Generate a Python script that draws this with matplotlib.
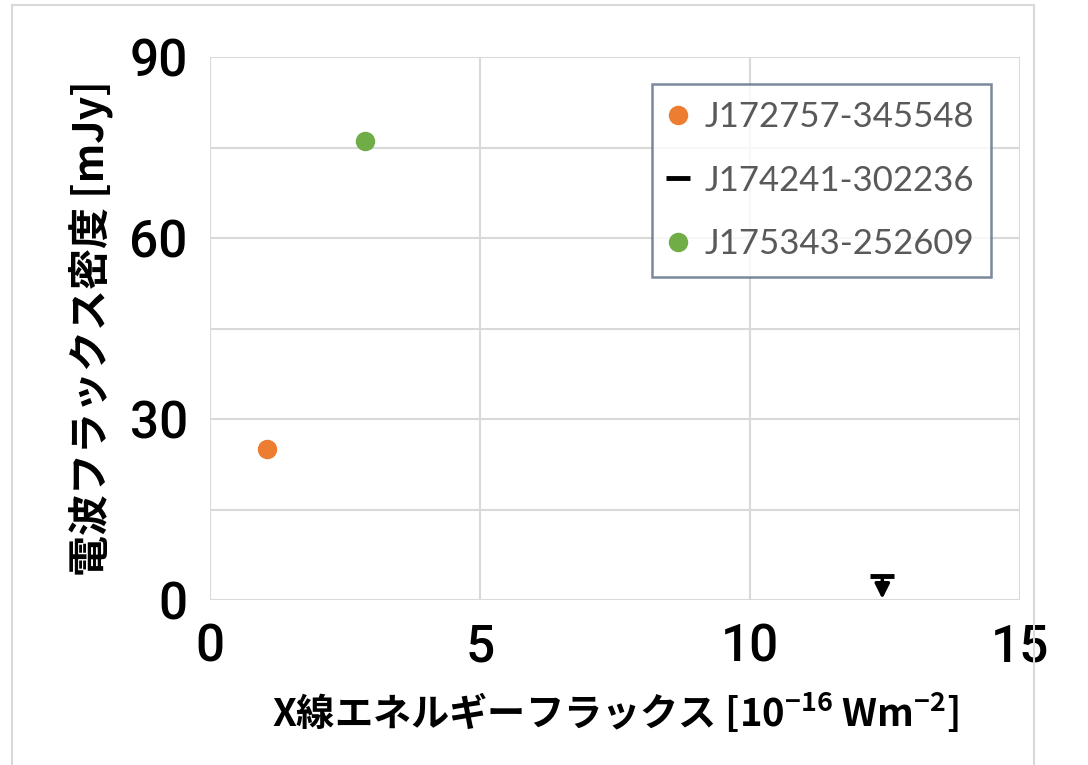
import matplotlib
matplotlib.use("Agg")
import matplotlib.pyplot as plt
from matplotlib.patches import Rectangle

plt.rcParams['font.family'] = ['Noto Sans CJK JP', 'DejaVu Sans']
plt.rcParams['mathtext.default'] = 'regular'

# data
names = ["J172757-345548", "J174241-302236", "J175343-252609"]
x_flux = [1.05, 12.45, 2.87]
radio_flux = [25, 4, 76]
is_upper_limit = [False, True, False]
colors = ["#ED7D31", "#000000", "#70AD47"]
xticks = [0, 5, 10, 15]
yticks = [0, 30, 60, 90]
yminor = [15, 45, 75]

fig = plt.figure(figsize=(10.88, 7.65), dpi=100)
ax = fig.add_axes([210/1088, 1-600/765, 810/1088, 543/765])

fig.patches.append(Rectangle((12/1088, -0.01), 1022/1088, 1-5/765+0.01,
                             transform=fig.transFigure, fill=False,
                             edgecolor="#d9d9d9", lw=1.5))

handles = []
for n, xv, yv, up, c in zip(names, x_flux, radio_flux, is_upper_limit, colors):
    if up:
        h, = ax.plot([xv], [yv], linestyle='none', marker='_', ms=17, mew=3.5,
                     color=c, label=n, zorder=5)
        ax.annotate('', xy=(xv, 0.2), xytext=(xv, yv),
                    arrowprops=dict(arrowstyle='-|>', color=c, lw=2.5,
                                    mutation_scale=22, shrinkA=0, shrinkB=0),
                    zorder=5)
    else:
        h, = ax.plot([xv], [yv], linestyle='none', marker='o', ms=13,
                     color=c, label=n, zorder=5)
    handles.append(h)

ax.set_xlim(0, 15)
ax.set_ylim(0, 90)
ax.set_xticks(xticks)
ax.set_yticks(yticks)
ax.set_yticks(yminor, minor=True)
ax.grid(True, which='both', color='#d9d9d9', lw=1.5)
ax.set_axisbelow(True)
for s in ax.spines.values():
    s.set_visible(False)
ax.tick_params(which='both', length=0)
ax.tick_params(axis='y', labelsize=37, pad=16)
ax.tick_params(axis='x', labelsize=37, pad=16)
for lab in ax.get_xticklabels() + ax.get_yticklabels():
    lab.set_family(['Roboto', 'DejaVu Sans'])
    lab.set_fontweight('medium')

ax.set_xlabel("X線エネルギーフラックス [10$^{-16}$ Wm$^{-2}$]", fontsize=27.5,
              fontweight='bold', labelpad=12)
ax.set_ylabel("電波フラックス密度 [mJy]", fontsize=29.5, fontweight='bold',
              labelpad=12)

leg = ax.legend(handles=handles, loc='upper left',
                bbox_to_anchor=(652/1088, 1-84/765), bbox_transform=fig.transFigure,
                borderaxespad=0, fancybox=False, frameon=True,
                prop={'family': ['Lato', 'DejaVu Sans'], 'size': 25},
                labelcolor='#595959', handlelength=0.5, handletextpad=0.5,
                labelspacing=0.9, borderpad=0.5)
leg.get_frame().set_edgecolor('#5b6b82')
leg.get_frame().set_linewidth(1.8)

fig.savefig("out.png", dpi=100)
